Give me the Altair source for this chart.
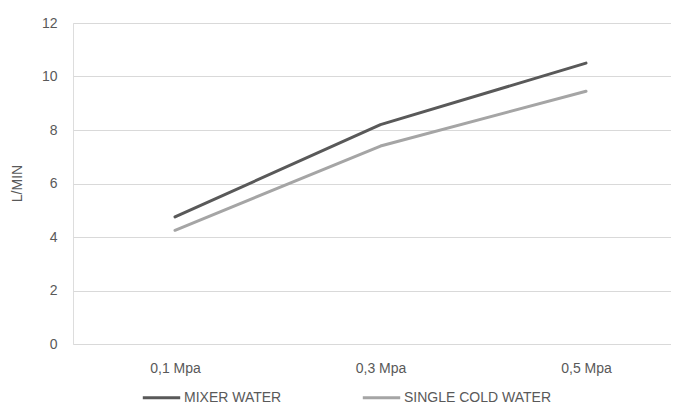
import altair as alt
import pandas as pd

categories = ["0,1 Mpa", "0,3 Mpa", "0,5 Mpa"]
mixer_water = [4.75, 8.2, 10.5]
single_cold_water = [4.25, 7.4, 9.45]
series_names = ["MIXER WATER", "SINGLE COLD WATER"]
y_ticks = [0, 2, 4, 6, 8, 10, 12]

rows = []
for i, c in enumerate(categories):
    rows.append({"idx": i, "series": series_names[0], "value": mixer_water[i]})
    rows.append({"idx": i, "series": series_names[1], "value": single_cold_water[i]})
df = pd.DataFrame(rows)

label_expr = "[" + ",".join("'" + c + "'" for c in categories) + "][datum.value]"

FONT = "Liberation Sans Narrow, Liberation Sans, Arial, sans-serif"

chart = alt.Chart(df).mark_line(strokeWidth=3, strokeCap="round", strokeJoin="round").encode(
    x=alt.X("idx:Q",
            scale=alt.Scale(domain=[-0.4964, 2.4136], nice=False, zero=False),
            axis=alt.Axis(title=None, values=list(range(len(categories))), labelExpr=label_expr,
                          labelAngle=0, domain=False, ticks=False, grid=False,
                          labelPadding=17, labelFontSize=14, labelColor="#595959",
                          labelFont=FONT, labelFlush=False, labelOverlap=False)),
    y=alt.Y("value:Q",
            scale=alt.Scale(domain=[0, 12], nice=False, zero=True),
            axis=alt.Axis(values=y_ticks, title="L/MIN", domain=False, ticks=False,
                          gridColor="#D9D9D9", gridWidth=1,
                          labelPadding=16, labelFontSize=14, labelColor="#595959",
                          labelFont=FONT,
                          titleFont=FONT, titleFontSize=14, titleColor="#595959",
                          titleFontWeight="normal", titleAngle=-90,
                          titleX=-56, titleY=160, titleAlign="center", titleBaseline="middle")),
    color=alt.Color("series:N", sort=series_names,
                    scale=alt.Scale(domain=series_names, range=["#595959", "#A5A5A5"]),
                    legend=alt.Legend(title=None, orient="none", direction="horizontal",
                                      legendX=68, legendY=354,
                                      symbolType="stroke", symbolStrokeWidth=3,
                                      symbolSize=1400, labelOffset=2,
                                      columnPadding=74,
                                      labelFont=FONT, labelFontSize=14,
                                      labelColor="#595959")),
    order="idx:Q",
).properties(
    width=598, height=321,
    padding={"left": 65, "top": 15, "right": 0, "bottom": 62},
    autosize=alt.AutoSizeParams(type="none"),
).configure_view(stroke=None).configure(background="white")

chart.save("out.html", embed_options={"renderer": "svg", "actions": False})
